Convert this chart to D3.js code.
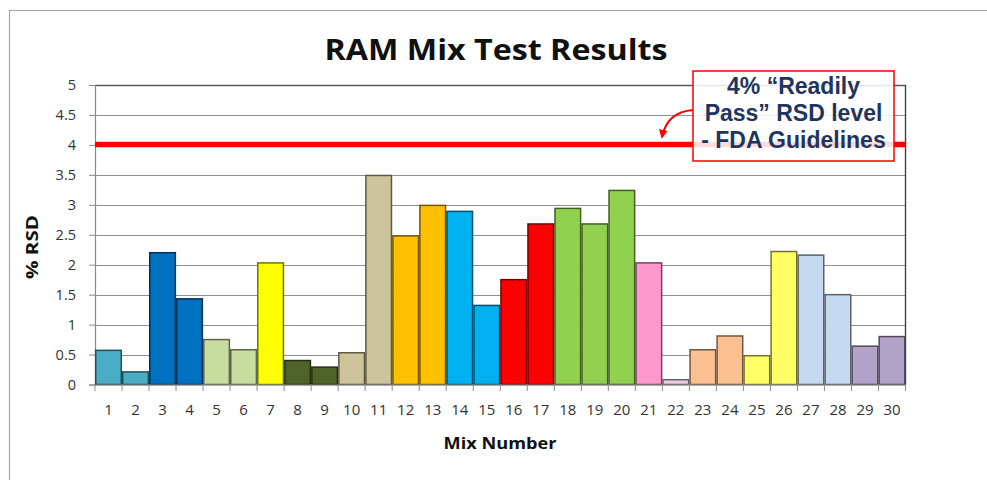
<!DOCTYPE html>
<html>
<head>
<meta charset="utf-8">
<script src="https://cdn.jsdelivr.net/npm/d3@7"></script>
<style>
  html, body { margin: 0; padding: 0; background: #fff; }
  svg { display: block; }
</style>
</head>
<body>
<svg id="chart" width="987" height="480"></svg>
<script>
// ---- data ----
const categories = ["1","2","3","4","5","6","7","8","9","10","11","12","13","14","15","16","17","18","19","20","21","22","23","24","25","26","27","28","29","30"];
const rsdValues = [0.57,0.21,2.2,1.43,0.75,0.58,2.03,0.4,0.29,0.53,3.49,2.48,2.99,2.89,1.32,1.75,2.68,2.94,2.68,3.24,2.03,0.08,0.58,0.81,0.48,2.22,2.16,1.5,0.64,0.8];
const barColors = ["#4BACC6","#4BACC6","#0070C0","#0070C0","#C9DCA0","#C9DCA0","#FFFF00","#4F6228","#4F6228","#CDC49B","#CDC49B","#FFC000","#FFC000","#00B0F0","#00B0F0","#FF0000","#FF0000","#92D050","#92D050","#92D050","#FF99CC","#EBCBE0","#FAC090","#FAC090","#FFFF66","#FFFF66","#C5D9F1","#C5D9F1","#B3A2C7","#B3A2C7"];
const yTicks = [0,0.5,1,1.5,2,2.5,3,3.5,4,4.5,5];
const thresholdValue = 4;
const titleText = "RAM Mix Test Results";
const yTitle = "% RSD";
const xTitle = "Mix Number";
const noteLines = ["4% \u201CReadily", "Pass\u201D RSD level", "- FDA Guidelines"];

(function () {
// ---- layout ----
const svg = d3.select("#chart");
const pL = 95, pR = 905.5, pT = 85, pB = 384.5;

const x = d3.scaleBand().domain(categories).range([pL, pR]).paddingInner(0).paddingOuter(0);
const y = d3.scaleLinear().domain([0, 5]).range([pB, pT]);

// outer frame
svg.append("path")
  .attr("d", "M9.5,480 L9.5,10.5 L987,10.5")
  .attr("fill", "none").attr("stroke", "#a6a6a6").attr("stroke-width", 1.2);

// title
svg.append("text")
  .attr("x", 496).attr("y", 60)
  .attr("text-anchor", "middle")
  .attr("font-family", "Open Sans, sans-serif")
  .attr("font-weight", "bold")
  .attr("font-size", 28)
  .attr("fill", "#111")
  .attr("textLength", 343).attr("lengthAdjust", "spacingAndGlyphs")
  .text(titleText);

// gridlines
svg.append("g").selectAll("line").data(yTicks.filter(d => d > 0))
  .join("line")
  .attr("x1", pL).attr("x2", pR)
  .attr("y1", d => Math.round(y(d)) + 0.5).attr("y2", d => Math.round(y(d)) + 0.5)
  .attr("stroke", d => d === 5 ? "#5a5a5a" : "#8f8f8f")
  .attr("stroke-width", d => d === 5 ? 1.4 : 1.1);

// y axis
const yAxis = d3.axisLeft(y).tickValues(yTicks).tickSize(6).tickPadding(13)
  .tickFormat(d => String(d));
const yg = svg.append("g").attr("transform", `translate(${pL},0)`).call(yAxis);
yg.select(".domain").attr("stroke", "#8a8a8a").attr("stroke-width", 1.2);
yg.selectAll(".tick line").attr("stroke", "#8a8a8a");
yg.selectAll(".tick text")
  .attr("font-family", "Open Sans, sans-serif").attr("font-size", 14.5).attr("fill", "#333");

// bars
svg.append("g").selectAll("rect").data(rsdValues)
  .join("rect")
  .attr("x", (d, i) => x(categories[i]) + 0.7)
  .attr("width", x.bandwidth() - 1.4)
  .attr("y", d => y(d))
  .attr("height", d => y(0) - y(d))
  .attr("fill", (d, i) => barColors[i])
  .attr("stroke", (d, i) => d3.color(barColors[i]).darker(2.2))
  .attr("stroke-width", 1.5);

// x axis
const xAxis = d3.axisBottom(x).tickSize(0).tickPadding(20);
const xg = svg.append("g").attr("transform", `translate(0,${pB})`).call(xAxis);
xg.select(".domain").attr("stroke", "#8a8a8a").attr("stroke-width", 1.2);
xg.selectAll(".tick text")
  .attr("font-family", "Open Sans, sans-serif").attr("font-size", 15).attr("fill", "#333");
// boundary ticks
const bounds = categories.map(c => x(c)).concat([pR]);
svg.append("g").selectAll("line").data(bounds).join("line")
  .attr("x1", d => d).attr("x2", d => d)
  .attr("y1", pB).attr("y2", pB + 6.5)
  .attr("stroke", "#8a8a8a").attr("stroke-width", 1);

// right border
svg.append("line")
  .attr("x1", pR).attr("x2", pR).attr("y1", pT).attr("y2", pB)
  .attr("stroke", "#444").attr("stroke-width", 1.4);

// threshold line
svg.append("line")
  .attr("x1", pL).attr("x2", pR)
  .attr("y1", y(thresholdValue) - 0.5).attr("y2", y(thresholdValue) - 0.5)
  .attr("stroke", "#FF0000").attr("stroke-width", 5.5);

// axis titles
svg.append("text")
  .attr("transform", "translate(38,247) rotate(-90)")
  .attr("text-anchor", "middle")
  .attr("font-family", "Open Sans, sans-serif").attr("font-weight", "bold")
  .attr("font-size", 16.5).attr("fill", "#111")
  .attr("textLength", 64).attr("lengthAdjust", "spacingAndGlyphs")
  .text(yTitle);

svg.append("text")
  .attr("x", 500).attr("y", 449)
  .attr("text-anchor", "middle")
  .attr("font-family", "Open Sans, sans-serif").attr("font-weight", "bold")
  .attr("font-size", 16.5).attr("fill", "#111")
  .attr("textLength", 113).attr("lengthAdjust", "spacingAndGlyphs")
  .text(xTitle);

// annotation box
const bx = 693, by = 71, bw = 201, bh = 90;
svg.append("rect")
  .attr("x", bx).attr("y", by).attr("width", bw).attr("height", bh)
  .attr("fill", "#fff").attr("fill-opacity", 0.86)
  .attr("stroke", "#FF0000").attr("stroke-width", 1.5);
svg.append("g").selectAll("text").data(noteLines).join("text")
  .attr("x", bx + bw / 2)
  .attr("y", (d, i) => 93.5 + i * 27)
  .attr("text-anchor", "middle")
  .attr("font-family", "Liberation Sans, Arial, sans-serif").attr("font-weight", "bold")
  .attr("font-size", 23).attr("fill", "#1F3560")
  .text(d => d);

// curved arrow
svg.append("defs").append("marker")
  .attr("id", "ah").attr("viewBox", "0 0 10 10")
  .attr("refX", 8).attr("refY", 5)
  .attr("markerWidth", 4.5).attr("markerHeight", 4.5)
  .attr("orient", "auto")
  .append("path").attr("d", "M0,0 L10,5 L0,10 z").attr("fill", "#FF0000");
svg.append("path")
  .attr("d", "M693,110 Q667,112 662,137")
  .attr("fill", "none").attr("stroke", "#FF0000").attr("stroke-width", 2)
  .attr("marker-end", "url(#ah)");
})();
</script>
</body>
</html>
